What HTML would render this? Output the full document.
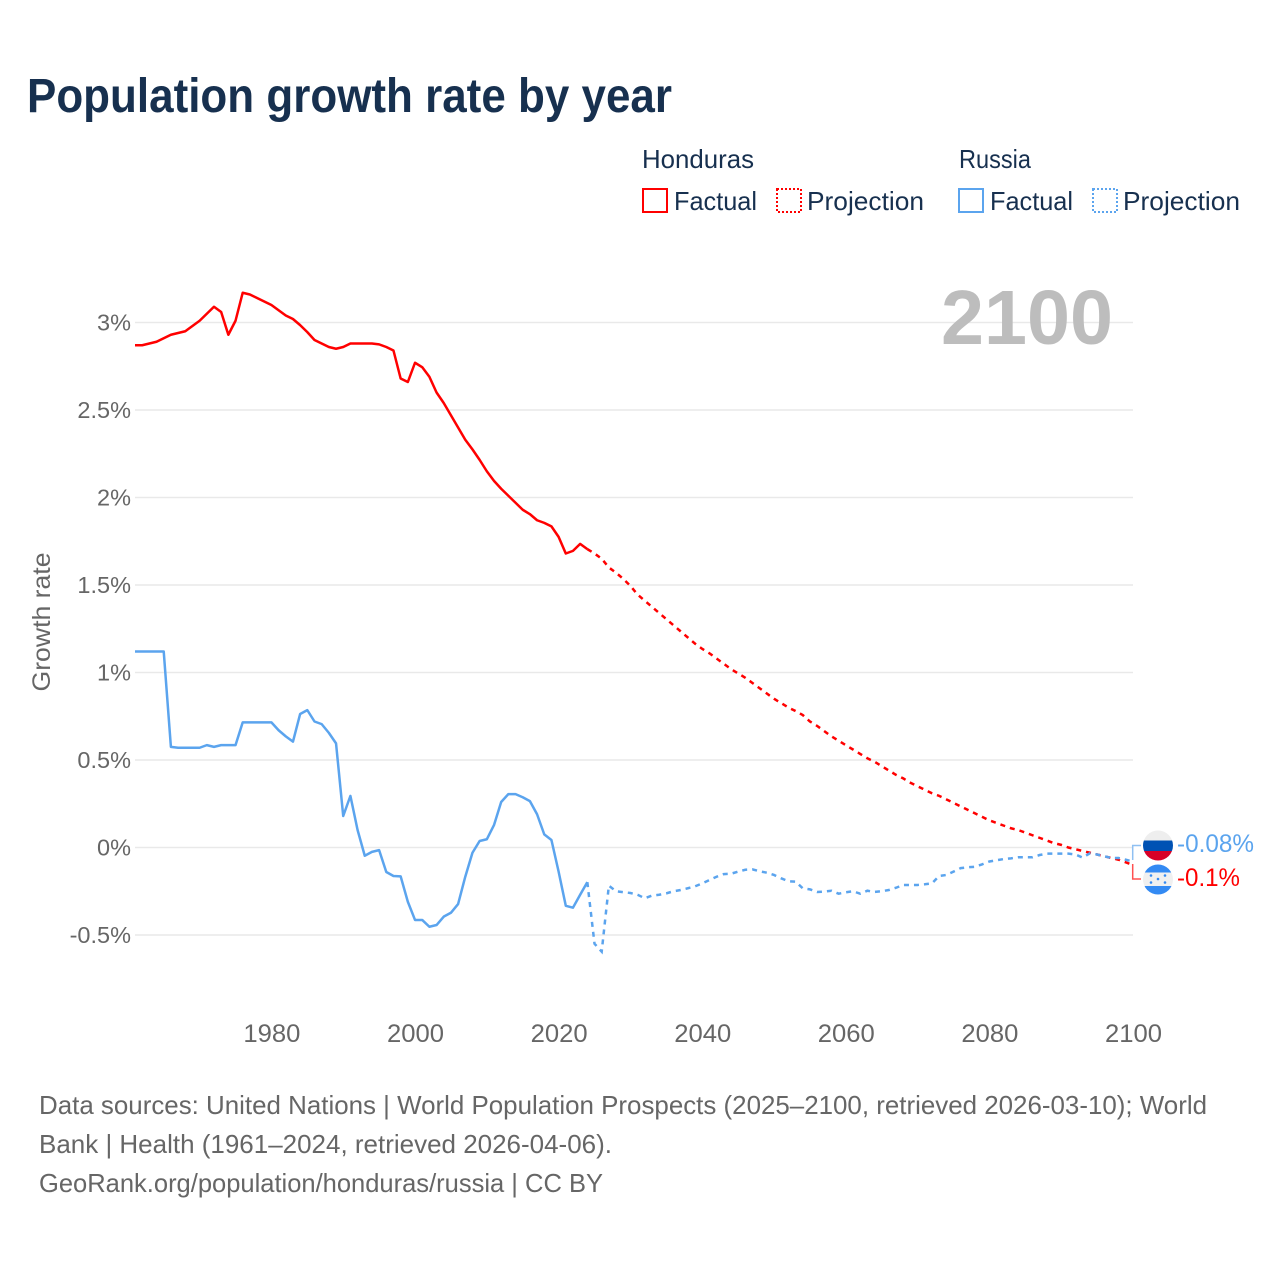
<!DOCTYPE html>
<html lang="en">
<head>
<meta charset="utf-8">
<title>Population growth rate by year</title>
<style>
html,body{margin:0;padding:0;background:#fff;}
svg{display:block;font-family:"Liberation Sans",sans-serif;}
</style>
</head>
<body>
<svg id="chart" width="1280" height="1280" viewBox="0 0 1280 1280" xmlns="http://www.w3.org/2000/svg">
  <rect x="0" y="0" width="1280" height="1280" fill="#ffffff"/>
  <text x="27" y="112" font-size="48" font-weight="700" fill="#17304f" textLength="645" lengthAdjust="spacingAndGlyphs">Population growth rate by year</text>

  <g font-size="26" fill="#17304f">
    <text x="642" y="168" textLength="112" lengthAdjust="spacingAndGlyphs">Honduras</text>
    <text x="959" y="168" textLength="72" lengthAdjust="spacingAndGlyphs">Russia</text>
    <rect x="643" y="189" width="24" height="23" fill="none" stroke="#ff0000" stroke-width="2"/>
    <text x="674" y="210" textLength="83" lengthAdjust="spacingAndGlyphs">Factual</text>
    <rect x="777" y="189" width="24" height="23" fill="none" stroke="#ff0000" stroke-width="2" stroke-dasharray="2 2"/>
    <text x="807" y="210" textLength="117" lengthAdjust="spacingAndGlyphs">Projection</text>
    <rect x="959" y="189" width="24" height="23" fill="none" stroke="#5ba4ee" stroke-width="2"/>
    <text x="990" y="210" textLength="83" lengthAdjust="spacingAndGlyphs">Factual</text>
    <rect x="1093" y="189" width="24" height="23" fill="none" stroke="#5ba4ee" stroke-width="2" stroke-dasharray="2 2"/>
    <text x="1123" y="210" textLength="117" lengthAdjust="spacingAndGlyphs">Projection</text>
  </g>

  <g id="grid"></g>
  <g id="yticks"></g>
  <g id="xticks"></g>

  <text transform="translate(50 622) rotate(-90)" text-anchor="middle" font-size="25" fill="#666666" textLength="139" lengthAdjust="spacingAndGlyphs">Growth rate</text>
  <text x="941" y="344" font-size="77" font-weight="700" fill="#bdbdbd" textLength="172" lengthAdjust="spacingAndGlyphs">2100</text>

  <g id="series"></g>

  <path d="M1132.7 860 V845.5 H1141" fill="none" stroke="#8fc0f2" stroke-width="1.5"/>
  <path d="M1132.7 864 V879 H1141" fill="none" stroke="#ff5050" stroke-width="1.5"/>

  <defs>
    <clipPath id="clip-ru"><circle cx="1158" cy="845.5" r="15"/></clipPath>
    <clipPath id="clip-hn"><circle cx="1158" cy="879.5" r="15"/></clipPath>
  </defs>
  <g clip-path="url(#clip-ru)">
    <rect x="1143" y="830" width="30" height="10.5" fill="#eeeeee"/>
    <rect x="1143" y="840.5" width="30" height="10.5" fill="#0052b4"/>
    <rect x="1143" y="851" width="30" height="10" fill="#d80027"/>
  </g>
  <g clip-path="url(#clip-hn)">
    <rect x="1143" y="864" width="30" height="8.5" fill="#338af3"/>
    <rect x="1143" y="872.5" width="30" height="13.5" fill="#f0f0f0"/>
    <rect x="1143" y="886" width="30" height="10" fill="#338af3"/>
    <g fill="#338af3">
      <circle cx="1151" cy="875.5" r="1.3"/>
      <circle cx="1165" cy="875.5" r="1.3"/>
      <circle cx="1158" cy="879" r="1.3"/>
      <circle cx="1151" cy="882.5" r="1.3"/>
      <circle cx="1165" cy="882.5" r="1.3"/>
    </g>
  </g>

  <text x="1177" y="852" font-size="25" fill="#5ba4ee" textLength="77" lengthAdjust="spacingAndGlyphs">-0.08%</text>
  <text x="1177" y="886" font-size="25" fill="#ff0000" textLength="63" lengthAdjust="spacingAndGlyphs">-0.1%</text>

  <g font-size="26" fill="#666666">
    <text x="39" y="1114" textLength="1168" lengthAdjust="spacingAndGlyphs">Data sources: United Nations | World Population Prospects (2025–2100, retrieved 2026-03-10); World</text>
    <text x="39" y="1153" textLength="573" lengthAdjust="spacingAndGlyphs">Bank | Health (1961–2024, retrieved 2026-04-06).</text>
    <text x="39" y="1192" textLength="564" lengthAdjust="spacingAndGlyphs">GeoRank.org/population/honduras/russia | CC BY</text>
  </g>
</svg>
<script>
const yTickValues = [3, 2.5, 2, 1.5, 1, 0.5, 0, -0.5];
const yTickLabels = ["3%", "2.5%", "2%", "1.5%", "1%", "0.5%", "0%", "-0.5%"];
const xTickYears = [1980, 2000, 2020, 2040, 2060, 2080, 2100];
const factualStartYear = 1961;
const projectionStartYear = 2024;

const hondurasFactual = [
  2.87,2.87,2.88,2.89,2.91,2.93,2.94,2.95,2.98,3.01,
  3.05,3.09,3.06,2.93,3.01,3.17,3.16,3.14,3.12,3.10,
  3.07,3.04,3.02,2.985,2.945,2.90,2.88,2.86,2.85,2.86,
  2.88,2.88,2.88,2.88,2.875,2.86,2.84,2.68,2.66,2.77,
  2.745,2.69,2.60,2.54,2.47,2.40,2.33,2.275,2.215,2.15,
  2.095,2.05,2.01,1.97,1.93,1.905,1.87,1.855,1.835,1.775,
  1.68,1.695,1.735,1.705
];
const hondurasProjection = [
  1.705,1.68,1.65,1.60,1.57,1.535,1.495,1.445,1.41,1.375,
  1.34,1.305,1.27,1.235,1.20,1.165,1.135,1.11,1.08,1.05,
  1.02,0.995,0.97,0.94,0.91,0.88,0.85,0.825,0.80,0.78,
  0.757,0.72,0.695,0.665,0.635,0.61,0.585,0.56,0.535,0.51,
  0.49,0.465,0.44,0.415,0.395,0.37,0.35,0.33,0.31,0.295,
  0.275,0.255,0.235,0.215,0.195,0.175,0.155,0.14,0.125,0.11,
  0.10,0.085,0.07,0.055,0.04,0.025,0.015,0,-0.01,-0.02,
  -0.03,-0.04,-0.05,-0.06,-0.07,-0.085,-0.10
];
const russiaFactual = [
  1.12,1.12,1.12,1.12,1.12,0.575,0.57,0.57,0.57,0.57,
  0.585,0.575,0.585,0.585,0.585,0.715,0.715,0.715,0.715,0.715,
  0.67,0.635,0.605,0.763,0.785,0.72,0.705,0.655,0.595,0.18,
  0.295,0.10,-0.047,-0.025,-0.015,-0.14,-0.163,-0.165,-0.31,-0.414,
  -0.414,-0.453,-0.443,-0.395,-0.373,-0.323,-0.167,-0.03,0.037,0.047,
  0.128,0.26,0.305,0.305,0.287,0.265,0.19,0.075,0.043,-0.138,
  -0.333,-0.344,-0.27,-0.198
];
const russiaProjection = [
  -0.198,-0.55,-0.595,-0.218,-0.25,-0.255,-0.26,-0.27,-0.29,-0.275,
  -0.27,-0.262,-0.25,-0.243,-0.233,-0.222,-0.205,-0.186,-0.167,-0.152,
  -0.15,-0.138,-0.127,-0.125,-0.136,-0.144,-0.157,-0.176,-0.193,-0.195,
  -0.233,-0.239,-0.254,-0.252,-0.247,-0.264,-0.256,-0.25,-0.264,-0.247,
  -0.254,-0.25,-0.243,-0.23,-0.214,-0.214,-0.214,-0.21,-0.205,-0.163,
  -0.157,-0.138,-0.118,-0.113,-0.11,-0.096,-0.08,-0.073,-0.066,-0.062,
  -0.056,-0.056,-0.056,-0.043,-0.035,-0.035,-0.035,-0.035,-0.04,-0.058,
  -0.033,-0.04,-0.05,-0.06,-0.06,-0.07,-0.08
];

const NS = "http://www.w3.org/2000/svg";
function xScale(year) { return 135 + (year - 1961) * (998 / 139); }
function yScale(value) { return 847.5 - value * 175; }

const gridGroup = document.getElementById("grid");
const yTickGroup = document.getElementById("yticks");
const xTickGroup = document.getElementById("xticks");
const seriesGroup = document.getElementById("series");

yTickValues.forEach(function (value, i) {
  const line = document.createElementNS(NS, "line");
  
  
  line.setAttribute("x1", 135);
  line.setAttribute("x2", 1133);
  line.setAttribute("y1", yScale(value));
  line.setAttribute("y2", yScale(value));
  line.setAttribute("stroke", "#e9e9e9");
  line.setAttribute("stroke-width", "1.4");
  gridGroup.appendChild(line);

  const label = document.createElementNS(NS, "text");
  
  
  label.setAttribute("x", 131);
  label.setAttribute("y", yScale(value) + 8);
  label.setAttribute("text-anchor", "end");
  label.setAttribute("font-size", "23.5");
  label.setAttribute("fill", "#666666");
  label.textContent = yTickLabels[i];
  yTickGroup.appendChild(label);
});

xTickYears.forEach(function (year) {
  const label = document.createElementNS(NS, "text");
  
  
  label.setAttribute("x", xScale(year) + 0.5);
  label.setAttribute("y", 1042);
  label.setAttribute("text-anchor", "middle");
  label.setAttribute("font-size", "25");
  label.setAttribute("fill", "#666666");
  label.setAttribute("textLength", "57");
  label.setAttribute("lengthAdjust", "spacingAndGlyphs");
  label.textContent = String(year);
  xTickGroup.appendChild(label);
});

function seriesPath(values, startYear) {
  return values.map(function (v, i) {
    return (i ? "L" : "M") + xScale(startYear + i).toFixed(2) + " " + yScale(v).toFixed(2);
  }).join(" ");
}

function drawFactual(values, color, name) {
  const path = document.createElementNS(NS, "path");
  
  
  path.setAttribute("d", seriesPath(values, factualStartYear));
  path.setAttribute("fill", "none");
  path.setAttribute("stroke", color);
  path.setAttribute("stroke-width", "2.5");
  path.setAttribute("stroke-linejoin", "round");
  seriesGroup.appendChild(path);
}

function drawProjection(values, color, name) {
  const path = document.createElementNS(NS, "path");
  
  
  path.setAttribute("d", seriesPath(values, projectionStartYear));
  path.setAttribute("fill", "none");
  path.setAttribute("stroke", color);
  path.setAttribute("stroke-width", "2.5");
  path.setAttribute("stroke-dasharray", "5 5");
  seriesGroup.appendChild(path);
}

drawFactual(russiaFactual, "#5ba4ee", "line-russia-factual");
drawFactual(hondurasFactual, "#ff0000", "line-honduras-factual");
drawProjection(hondurasProjection, "#ff0000", "line-honduras-projection");
drawProjection(russiaProjection, "#5ba4ee", "line-russia-projection");
</script>
</body>
</html>
